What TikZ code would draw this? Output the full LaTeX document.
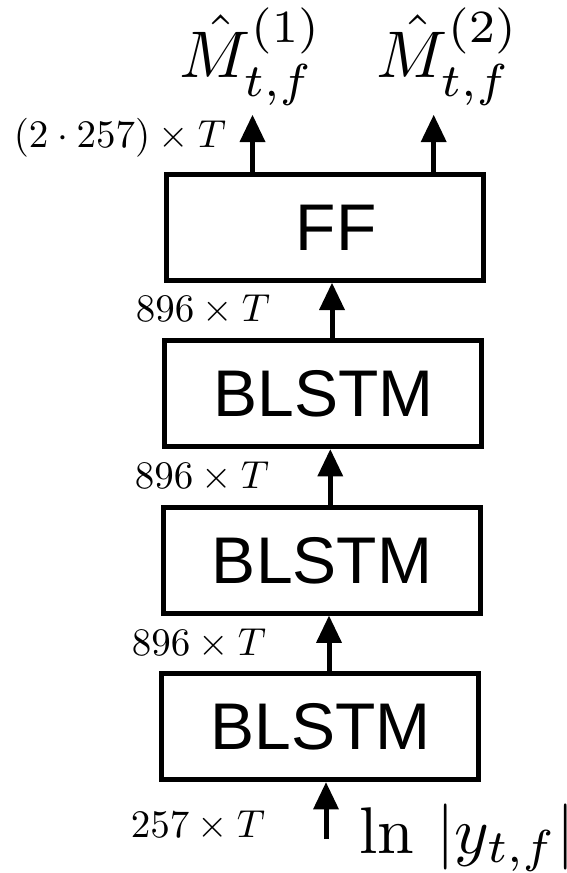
\documentclass[tikz,border=0pt]{standalone}
\usepackage{fontspec}
\newfontfamily\boxfont{Liberation Sans}
\usetikzlibrary{arrows.meta}
\tikzset{
  layer/.style={draw=black, line width=5pt, minimum width=317pt, minimum height=106pt,
    inner sep=0pt, font=\boxfont\fontsize{66}{70}\selectfont},
  dimlabel/.style={inner sep=0pt, anchor=base, scale=3.9, transform shape, font=\fontsize{10}{12}\selectfont},
  biglabel/.style={inner sep=0pt, scale=6.6, transform shape, font=\fontsize{10}{12}\selectfont},
  arr/.style={line width=5pt, -{Triangle[length=27pt,width=26pt,line width=0pt]}}
}
\begin{document}
\begin{tikzpicture}[x=1pt,y=-1pt]
\useasboundingbox (0,0) rectangle (566,873);
% layers
\node[layer] (ff) at (325,227.5) {\hspace*{22pt}FF};
\node[layer] (b1) at (323.4,393.9) {BLSTM};
\node[layer] (b2) at (322,560.3) {BLSTM};
\node[layer] (b3) at (320.4,726.9) {BLSTM};
% free ends
\coordinate (o1) at (252.5,115);
\coordinate (o2) at (433.7,115);
\coordinate (in) at (326,839);
\node[biglabel, anchor=base] (m1) at (251,77) {$\hat{M}^{(1)}_{t,f}$};
\node[biglabel, anchor=base] (m2) at (448,77) {$\hat{M}^{(2)}_{t,f}$};
\node[biglabel, anchor=base west] (inl) at (358,853) {$\ln\,|y_{t,f}|$};
% dimension labels
\node[dimlabel] (d0) at (120,147) {$(2\cdot 257)\times T$};
\node[dimlabel] (d1) at (203,321.7) {$896\times T$};
\node[dimlabel] (d2) at (202,488.3) {$896\times T$};
\node[dimlabel] (d3) at (199,655) {$896\times T$};
\node[dimlabel] (d4) at (198,837) {$257\times T$};
% arrows
\draw[arr] (ff.north -| o1) -- (o1);
\draw[arr] (ff.north -| o2) -- (o2);
\draw[arr] ([xshift=8.6pt]b1.north) -- ([xshift=8.6pt]b1.north |- ff.south);
\draw[arr] ([xshift=8.3pt]b2.north) -- ([xshift=8.3pt]b2.north |- b1.south);
\draw[arr] ([xshift=8.6pt]b3.north) -- ([xshift=8.6pt]b3.north |- b2.south);
\draw[arr] (in) -- (in |- b3.south);
\end{tikzpicture}
\end{document}
